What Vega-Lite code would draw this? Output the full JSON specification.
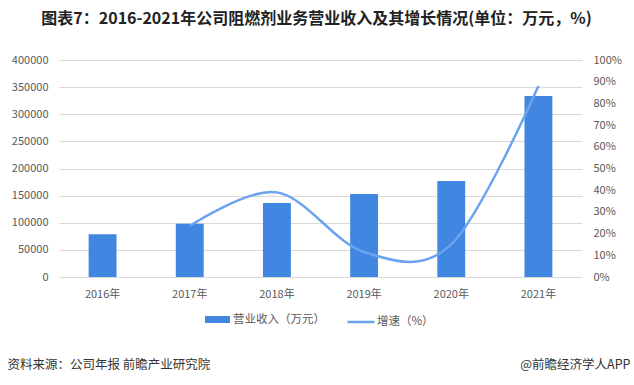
{
  "$schema": "https://vega.github.io/schema/vega-lite/v6.json",
  "width": 523,
  "height": 217,
  "autosize": {"type": "none"},
  "padding": {"left": 59, "top": 60, "right": 52, "bottom": 108},
  "background": "white",
  "config": {"font": "Noto Sans CJK SC", "view": {"stroke": null}},
  "title": {"text": "图表7：2016-2021年公司阻燃剂业务营业收入及其增长情况(单位：万元，%)", "fontSize": 16, "fontWeight": "bold", "color": "#222222", "anchor": "middle", "dx": -4, "offset": 27},
  "data": {"values": [
    {"year": "2016年", "revenue": 79000, "growth": null},
    {"year": "2017年", "revenue": 98000, "growth": 0.235},
    {"year": "2018年", "revenue": 136500, "growth": 0.39},
    {"year": "2019年", "revenue": 153000, "growth": 0.115},
    {"year": "2020年", "revenue": 177000, "growth": 0.15},
    {"year": "2021年", "revenue": 333500, "growth": 0.88}
  ]},
  "encoding": {
    "x": {"field": "year", "type": "nominal", "sort": null,
      "scale": {"paddingInner": 0.68, "paddingOuter": 0.34},
      "axis": {"title": null, "labelAngle": 0, "labelFontSize": 11, "labelColor": "#595959", "ticks": false, "labelPadding": 11, "domain": false, "grid": false}}
  },
  "layer": [
    {
      "mark": {"type": "bar"},
      "encoding": {
        "y": {"field": "revenue", "type": "quantitative",
          "scale": {"domain": [0, 400000]},
          "axis": {"values": [0, 50000, 100000, 150000, 200000, 250000, 300000, 350000, 400000], "format": "d", "labelFontSize": 11, "labelColor": "#595959", "ticks": false, "domain": false, "labelPadding": 11, "gridColor": "#D9D9D9", "grid": true,
            "title": "资料来源：公司年报 前瞻产业研究院", "titleAngle": 0, "titleAlign": "left", "titleBaseline": "middle", "titleX": -52, "titleY": 304, "titleFontSize": 12.5, "titleFontWeight": "normal", "titleColor": "#333333"}},
        "fill": {"datum": "营业收入（万元）", "type": "nominal", "scale": {"range": ["#4186E0"]},
          "legend": {"orient": "none", "legendX": 146, "legendY": 247, "direction": "horizontal", "title": null, "labelFontSize": 11.5, "labelColor": "#595959", "labelOffset": 3, "padding": 0, "symbolType": "M-1,-0.28H1V0.28H-1Z", "symbolSize": 625, "symbolStrokeWidth": 0}}
      }
    },
    {
      "mark": {"type": "line", "interpolate": "cardinal", "strokeWidth": 2.5},
      "encoding": {
        "y": {"field": "growth", "type": "quantitative",
          "scale": {"domain": [0, 1]},
          "axis": {"orient": "right", "values": [0, 0.1, 0.2, 0.3, 0.4, 0.5, 0.6, 0.7, 0.8, 0.9, 1], "format": ".0%", "labelFontSize": 11, "labelColor": "#595959", "ticks": false, "domain": false, "labelPadding": 11, "grid": false,
            "title": "@前瞻经济学人APP", "titleAngle": 0, "titleAlign": "right", "titleBaseline": "middle", "titleX": 48, "titleY": 304, "titleFontSize": 12.5, "titleFontWeight": "normal", "titleColor": "#333333"}},
        "stroke": {"datum": "增速（%）", "type": "nominal", "scale": {"range": ["#6BA3EE"]},
          "legend": {"orient": "none", "legendX": 287, "legendY": 247, "direction": "horizontal", "title": null, "labelFontSize": 11.5, "labelColor": "#595959", "labelOffset": 1, "padding": 0, "symbolType": "stroke", "symbolSize": 729, "symbolStrokeWidth": 2.5}}
      }
    }
  ],
  "resolve": {"scale": {"y": "independent"}}
}
